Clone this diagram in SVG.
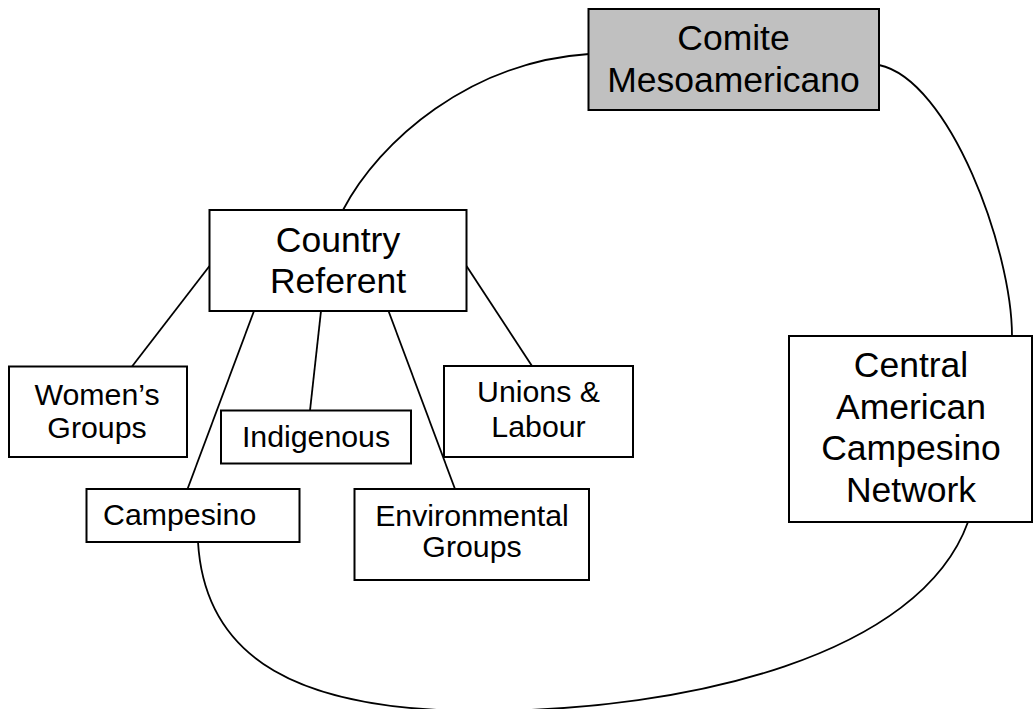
<svg xmlns="http://www.w3.org/2000/svg" width="1034" height="709" viewBox="0 0 1034 709">
<style>
.box{fill:#ffffff;stroke:#000000;stroke-width:2}
.grey{fill:#c0c0c0}
.big{font-family:"Liberation Sans",Arial,sans-serif;font-size:35.5px;fill:#000000;text-anchor:middle}
.small{font-family:"Liberation Sans",Arial,sans-serif;font-size:30.3px;fill:#000000;text-anchor:middle}
.conn{fill:none;stroke:#000000;stroke-width:1.8}
</style>
<rect width="1034" height="709" fill="#ffffff"/>
<g id="connectors">
<path class="conn" d="M343,210 C380,140 470,62 589,54"/>
<path class="conn" d="M879,65 C950,80 1012,250 1012,336"/>
<path class="conn" d="M198,542 C205,660 300,711 480,711 C690,711 920,655 968,522"/>
<line class="conn" x1="209.5" y1="266" x2="132" y2="366.5"/>
<line class="conn" x1="254" y1="311" x2="187.5" y2="489"/>
<line class="conn" x1="321" y1="311" x2="310" y2="410.5"/>
<line class="conn" x1="388.5" y1="311" x2="455" y2="489"/>
<line class="conn" x1="466.5" y1="266" x2="532" y2="366"/>
</g>
<g id="comite">
<rect class="box grey" x="588.5" y="9" width="290.5" height="101"/>
<text class="big" x="733.5" y="50">Comite</text>
<text class="big" x="733.5" y="92">Mesoamericano</text>
</g>
<g id="country">
<rect class="box" x="209.5" y="210" width="257" height="101"/>
<text class="big" x="338" y="252">Country</text>
<text class="big" x="338" y="293">Referent</text>
</g>
<g id="central">
<rect class="box" x="789" y="336" width="243" height="186"/>
<text class="big" x="911" y="377">Central</text>
<text class="big" x="911" y="419">American</text>
<text class="big" x="911" y="460">Campesino</text>
<text class="big" x="911" y="502">Network</text>
</g>
<g id="womens">
<rect class="box" x="9" y="366.5" width="178" height="90.5"/>
<text class="small" x="97" y="405">Women’s</text>
<text class="small" x="97" y="438">Groups</text>
</g>
<g id="unions">
<rect class="box" x="444" y="366" width="189" height="91"/>
<text class="small" x="538.5" y="402">Unions &amp;</text>
<text class="small" x="538.5" y="437">Labour</text>
</g>
<g id="indigenous">
<rect class="box" x="221" y="410.5" width="190" height="53"/>
<text class="small" x="316" y="446.5">Indigenous</text>
</g>
<g id="campesino">
<rect class="box" x="86.5" y="489" width="213" height="53"/>
<text class="small" x="103" y="525" style="text-anchor:start">Campesino</text>
</g>
<g id="environmental">
<rect class="box" x="354.5" y="489" width="234.5" height="91"/>
<text class="small" x="472" y="525.5">Environmental</text>
<text class="small" x="472" y="557">Groups</text>
</g>
</svg>
